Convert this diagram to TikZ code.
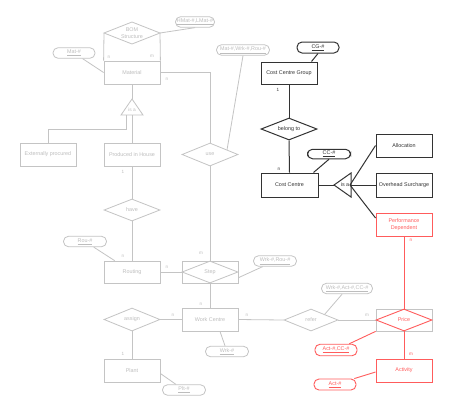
\documentclass[tikz,border=0pt]{standalone}
\usepackage{fontspec}
\setmainfont{Liberation Sans}
\usetikzlibrary{shapes.geometric,calc}
\definecolor{gline}{HTML}{C4C4C4}
\definecolor{gtext}{HTML}{BDBDBD}
\definecolor{rline}{HTML}{FF5C5C}
\definecolor{bline}{HTML}{333333}
\tikzset{
 base/.style={font=\fontsize{5.4}{7}\selectfont, inner sep=0pt, align=center},
 ent/.style={base, rectangle, minimum width=56pt, minimum height=23pt},
 rel/.style={base, diamond, aspect=2.5, minimum width=56pt, minimum height=22pt},
 att/.style={base, rectangle, rounded corners=5pt, minimum height=10.5pt},
 card/.style={font=\fontsize{4.6}{5}\selectfont, inner sep=0pt},
 gr/.style={draw=gline, text=gtext, line width=.8pt},
 rd/.style={draw=rline, text=rline, line width=.9pt},
 bk/.style={draw=bline, text=bline, line width=1pt},
 gl/.style={draw=gline, line width=.8pt},
 rl/.style={draw=rline, line width=.9pt},
 bl/.style={draw=bline, line width=1pt},
 gcard/.style={card, text=gtext},
 rcard/.style={card, text=rline},
 bcard/.style={card, text=bline},
}
\begin{document}
\begin{tikzpicture}[x=1pt,y=-1pt]
\useasboundingbox[fill=white] (0,0) rectangle (454,405);

% ---------- grey part ----------
% BOM structure (associative entity on Material)
\coordinate (bomT) at (132,22);
\coordinate (bomL) at (104,33);
\coordinate (bomR) at (160,33);
\coordinate (bomB) at (132,44);
\draw[gl] (bomL)--(bomT)--(bomR)--(bomB)--cycle;
\node[base,text=gtext] (bomtxt) at (132,33.5) {BOM\\Structure};
\node[ent,gr] (material) at (132,72.5) {Material};
\draw[gl] (bomL) -- (material.north west);
\draw[gl] (bomR) -- (material.north east);
\node[gcard] (nbom) at (109,57) {n};
\node[gcard] (mbom) at (152,56) {m};

\node[att,gr,minimum width=39pt] (hmat) at (195,22) {\underline{HMat-\#,LMat-\#}};
\draw[gl] (bomR) -- (hmat.south);
\node[att,gr,minimum width=42pt] (matid) at (74,53) {\underline{Mat-\#}};
\draw[gl] (matid) -- (material.west);

\node[rel,gr,minimum height=23pt] (use) at (210,154.5) {use};
\node[att,gr,minimum width=53pt] (mwr) at (243,50) {\underline{Mat-\#,Wrk-\#,Rou-\#}};
\draw[gl] (mwr.south) -- ($(use.north)!0.6!(use.east)$);
\draw[gl] (material.east) -| (use.north);
\node[gcard] (nuse) at (167,79) {n};

% is-a triangle under Material
\coordinate (isaA) at (132,99);
\coordinate (isaBL) at (121,115);
\coordinate (isaBR) at (143,115);
\draw[gl] (isaA)--(isaBR)--(isaBL)--cycle;
\node[base,text=gtext,font=\fontsize{4.8}{5}\selectfont] (isa1) at (132,110) {is a};
\draw[gl] (material.south) -- (isaA);
\node[ent,gr] (ext) at (48,154.5) {Externally procured};
\node[ent,gr] (pih) at (132,154.5) {Produced in House};
\coordinate (isaO1) at (126,115);
\coordinate (isaO2) at (132,115);
\draw[gl] (isaO1) -- ++(0,14) -| (ext.north);
\draw[gl] (isaO2) -- (pih.north);
\node[gcard] (one1) at (123,172) {1};

\node[rel,gr] (have) at (132,210) {have};
\draw[gl] (pih.south) -- (have.north);
\node[ent,gr,minimum height=22pt] (routing) at (132,272) {Routing};
\draw[gl] (have.south) -- (routing.north);
\node[gcard] (nrout) at (123,256) {n};
\node[att,gr,minimum width=43pt] (rouid) at (85,241.5) {\underline{Rou-\#}};
\draw[gl] (rouid) -- ($(routing.north west)+(11,0)$);

% Step
\node[ent,gr,minimum height=22pt] (stepbox) at (210,272) {};
\node[rel,gr] (step) at (210,272) {Step};
\draw[gl] (routing.east) -- (step.west);
\node[gcard] (nstep) at (167,267) {n};
\draw[gl] (use.south) -- (step.north);
\node[gcard] (mstep) at (201,253) {m};
\node[att,gr,minimum width=43pt] (wrid) at (275,261) {\underline{Wrk-\#,Rou-\#}};
\draw[gl] (wrid) -- ($(stepbox.east)!0.5!(stepbox.south east)$);

% Work Centre
\node[ent,gr] (wc) at (210,319.5) {Work Centre};
\draw[gl] (step.south) -- (wc.north);
\node[gcard] (nwc) at (201,304) {n};
\node[rel,gr,minimum height=23pt] (assign) at (132,319.5) {assign};
\draw[gl] (assign.east) -- (wc.west);
\node[gcard] (nass) at (173,315) {n};
\node[ent,gr] (plant) at (132,370.5) {Plant};
\draw[gl] (assign.south) -- (plant.north);
\node[gcard] (oneplant) at (123,354) {1};
\node[att,gr,minimum width=43pt] (pltid) at (184,390) {\underline{Plt-\#}};
\draw[gl] (pltid) -- ($(plant.east)+(0,3)$);
\node[att,gr,minimum width=43pt] (wrkid) at (227,351.5) {\underline{Wrk-\#}};
\draw[gl] (wrkid) -- ($(wc.south)+(10,0)$);

% refer
\node[rel,gr,minimum width=54pt] (refer) at (311,320) {refer};
\draw[gl] (wc.east) -- (refer.west);
\node[gcard] (nref) at (247,315) {n};
\node[att,gr,minimum width=51pt] (wacid) at (347,288.5) {\underline{Wrk-\#,Act-\#,CC-\#}};
\draw[gl] (wacid) -- (refer.north east);

% Price
\node[ent,gr,minimum height=22pt] (pricebox) at (404,320) {};
\draw[gl] (refer.east) -- (pricebox.west);
\node[gcard] (mref) at (367,315) {m};

% ---------- red part ----------
\node[rel,rd] (price) at (404,320) {Price};
\node[ent,rd] (pd) at (404,224.5) {Performance\\Dependent};
\draw[rl] (pd.south) -- (price.north);
\node[rcard] (npd) at (411,240) {n};
\node[att,rd,minimum width=42pt,minimum height=11.5pt] (accid) at (336,350) {\underline{Act-\#,CC-\#}};
\draw[rl] (accid) -- (pricebox.south west);
\node[ent,rd] (activity) at (404,370.5) {Activity};
\draw[rl] (price.south) -- (activity.north);
\node[rcard] (mact) at (411,354) {m};
\node[att,rd,minimum width=42pt,minimum height=11pt] (actid) at (335,384.5) {\underline{Act-\#}};
\draw[rl] (actid) -- ($(activity.west)+(0,1.5)$);

% ---------- black part ----------
\node[ent,bk,minimum height=22pt] (ccg) at (289,73) {Cost Centre Group};
\node[att,bk,minimum width=42pt,minimum height=11pt] (cgid) at (318,47.5) {\underline{CG-\#}};
\draw[bl] (cgid.south) -- ($(ccg.north east)+(-6,0)$);
\node[bcard] (oneccg) at (278,90) {1};
\node[rel,bk] (belong) at (289,129) {belong to};
\draw[bl] (ccg.south) -- (belong.north);
\node[ent,bk,minimum width=57pt,minimum height=24pt] (cc) at (289.5,185) {Cost Centre};
\draw[bl] (belong.south) -- (cc.north);
\node[bcard] (ncc) at (279,169) {n};
\node[att,bk,minimum width=43pt,minimum height=9.5pt] (ccid) at (329,154) {\underline{CC-\#}};
\draw[bl] (ccid.south) -- ($(cc.north east)+(-5,0)$);

\coordinate (isa2A) at (334,185);
\coordinate (isa2T) at (351,173);
\coordinate (isa2B) at (351,197);
\draw[bl] (isa2A)--(isa2T)--(isa2B)--cycle;
\node[base,text=bline] (isa2) at (345,185) {is a};
\draw[bl] (cc.east) -- (isa2A);
\coordinate (isa2O) at (350,185);
\node[ent,bk] (alloc) at (404,145.5) {Allocation};
\node[ent,bk,minimum height=24pt] (ohs) at (404,185) {Overhead Surcharge};
\draw[bl] (isa2O) -- (alloc.west);
\draw[bl] (isa2O) -- (ohs.west);
\draw[bl] (isa2O) -- ($(pd.west)+(0,-6.5)$);
\end{tikzpicture}
\end{document}
